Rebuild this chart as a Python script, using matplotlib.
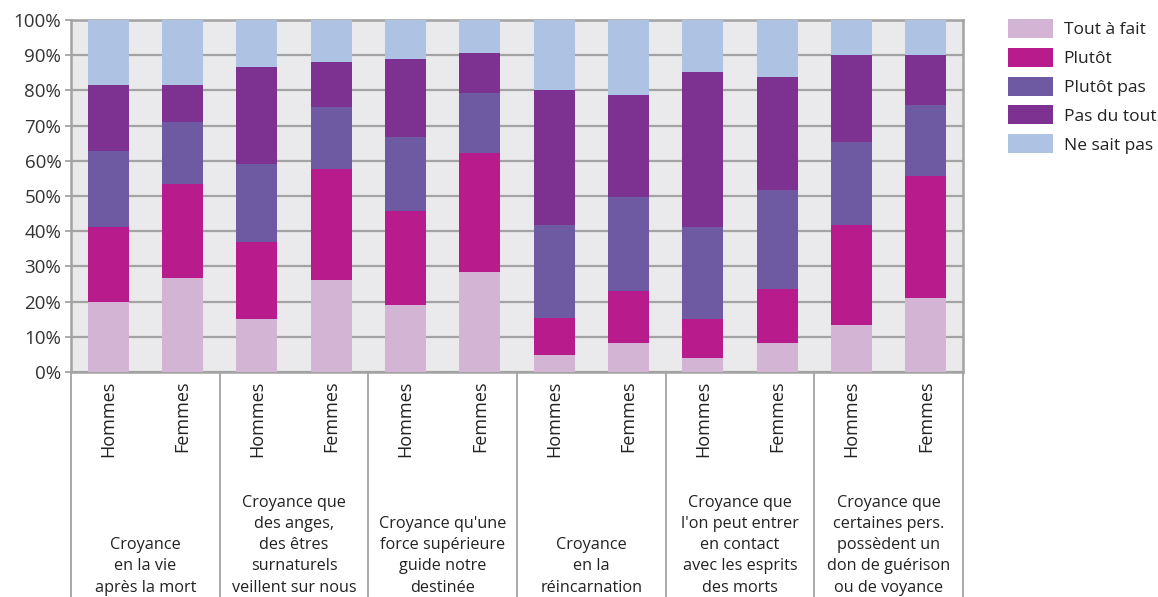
import numpy as np
import matplotlib
matplotlib.use("Agg")
import matplotlib.pyplot as plt
import matplotlib.transforms as mtransforms

plt.rcParams['font.family'] = ['Open Sans', 'DejaVu Sans']

groups = [
    "Croyance\nen la vie\naprès la mort",
    "Croyance que\ndes anges,\ndes êtres\nsurnaturels\nveillent sur nous",
    "Croyance qu'une\nforce supérieure\nguide notre\ndestinée",
    "Croyance\nen la\nréincarnation",
    "Croyance que\nl'on peut entrer\nen contact\navec les esprits\ndes morts",
    "Croyance que\ncertaines pers.\npossèdent un\ndon de guérison\nou de voyance",
]
sexes = ["Hommes", "Femmes"]

series = ["Tout à fait", "Plutôt", "Plutôt pas", "Pas du tout", "Ne sait pas"]
colors = ["#D3B4D4", "#B81C8C", "#6E5AA2", "#7D3291", "#AEC3E3"]

# one value per bar (H, F for each group), in %
tout_a_fait = [20.0, 26.7, 15.1, 26.1, 19.0, 28.4, 4.8, 8.2, 4.0, 8.2, 13.4, 21.0]
plutot = [21.2, 26.7, 21.9, 31.6, 26.7, 33.8, 10.6, 14.8, 11.1, 15.4, 28.4, 34.7]
plutot_pas = [21.6, 17.6, 22.1, 17.6, 21.1, 17.1, 26.4, 26.7, 26.1, 28.1, 23.5, 20.2]
pas_du_tout = [18.7, 10.5, 27.5, 12.8, 22.1, 11.3, 38.3, 29.0, 44.0, 32.1, 24.8, 14.2]
ne_sait_pas = [18.5, 18.5, 13.4, 11.9, 11.1, 9.4, 19.9, 21.3, 14.8, 16.2, 9.9, 9.9]

data = [tout_a_fait, plutot, plutot_pas, pas_du_tout, ne_sait_pas]

fig = plt.figure(figsize=(11.58, 5.97), dpi=100)
ax = fig.add_axes([71 / 1158, 1 - 372 / 597, 892 / 1158, 352 / 597])
ax.set_facecolor("#EAEAEC")

n = len(tout_a_fait)
x = np.arange(n)
bottom = np.zeros(n)
handles = []
for vals, lab, col in zip(data, series, colors):
    b = ax.bar(x, vals, bottom=bottom, width=0.555, color=col, label=lab, zorder=3)
    handles.append(b)
    bottom += np.array(vals)

ax.set_xlim(-0.5, n - 0.5)
ax.set_ylim(0, 100)
ax.set_yticks(np.arange(0, 101, 10))
ax.set_yticklabels([f"{v}%" for v in range(0, 101, 10)])
ax.yaxis.grid(True, color="#A3A3A3", linewidth=1.6, zorder=1)
ax.set_axisbelow(True)
ax.tick_params(axis="y", length=4, width=1.3, color="#A3A3A3", labelsize=13.5,
               labelcolor="#333333", pad=3)

ax.set_xticks(x)
ax.set_xticklabels(sexes * len(groups), rotation=90, fontsize=13, color="#222222")
ax.tick_params(axis="x", length=0, pad=6)

for s in ax.spines.values():
    s.set_color("#A3A3A3")
    s.set_linewidth(1.8)

# group separators under the axis
trans = mtransforms.blended_transform_factory(ax.transData, ax.transAxes)
for b in np.arange(-0.5, n, 2):
    ax.plot([b, b], [0, -0.64], transform=trans, color="#A3A3A3", linewidth=1.3,
            clip_on=False)

for i, g in enumerate(groups):
    ax.text(2 * i + 0.5, -0.635, g, transform=trans, ha="center", va="bottom",
            fontsize=11.7, color="#222222", linespacing=1.42)

fig.legend(handles=handles, labels=series, loc="upper left",
           bbox_to_anchor=(1008 / 1158, 1 - 19 / 597), frameon=False,
           borderpad=0, borderaxespad=0,
           fontsize=12.5, handlelength=2.6, handleheight=1.3, labelspacing=0.55,
           handletextpad=0.6, labelcolor="#222222")

fig.savefig("out.png", dpi=100)
